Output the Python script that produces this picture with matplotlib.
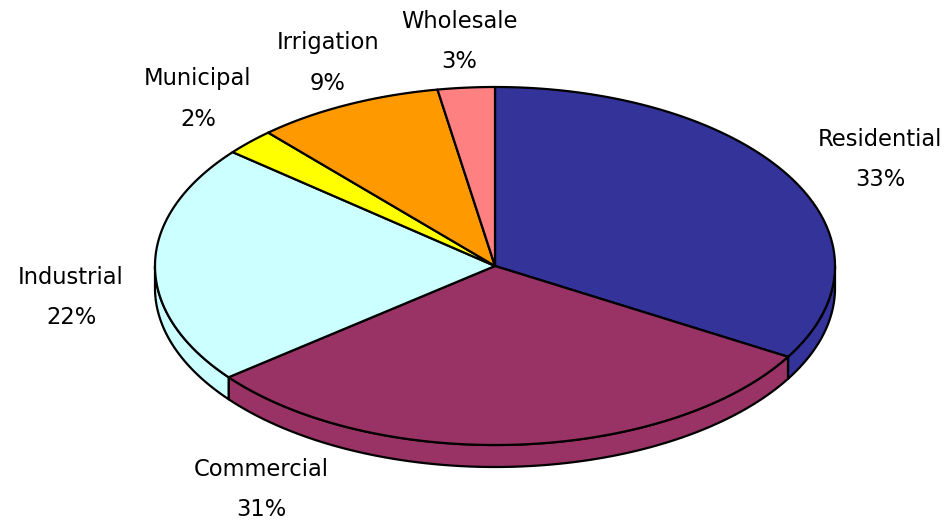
import numpy as np
import matplotlib
matplotlib.use("Agg")
import matplotlib.pyplot as plt
from matplotlib.patches import Polygon

# ---- data ----
categories = ["Residential", "Commercial", "Industrial", "Municipal", "Irrigation", "Wholesale"]
values = [33.4, 30.8, 21.6, 2.4, 8.9, 2.7]   # estimated shares (%)
colors = ["#333399", "#993366", "#CCFFFF", "#FFFF00", "#FF9900", "#FF8080"]

# ---- layout ----
W, H = 947, 524
cx, cy = 495, 266      # ellipse centre (pixels)
rx, ry = 340, 179      # ellipse radii
depth = 22             # 3-D thickness
start_angle = 90.0     # first slice starts at top, clockwise
label_pos = [(880, 139), (261, 470), (71, 277), (198, 79), (328, 43), (459, 21)]
line_gap = 40
fontsize = 16.3

fig = plt.figure(figsize=(W / 100, H / 100), dpi=100)
ax = fig.add_axes([0, 0, 1, 1])
ax.set_xlim(0, W)
ax.set_ylim(H, 0)
ax.axis("off")


def pt(theta_deg, dy=0.0):
    t = np.radians(theta_deg)
    return cx + rx * np.cos(t), cy - ry * np.sin(t) + dy


def arc(a1, a2, dy=0.0, n=200):
    th = np.linspace(a1, a2, n)
    xs, ys = pt(th, dy)
    return np.column_stack([xs, ys])


total = float(sum(values))
bounds = []
a = start_angle
for v in values:
    b = a - 360.0 * v / total
    bounds.append((a, b))
    a = b

lw = 1.6
# side faces (front half: angles in [-180, 0])
for (a1, a2), col in zip(bounds, colors):
    for off in (0.0, 360.0):
        hi = min(a1 + off, 0.0)
        lo = max(a2 + off, -180.0)
        if hi > lo:
            top = arc(hi, lo)
            bot = arc(lo, hi, dy=depth)
            poly = Polygon(np.vstack([top, bot]), closed=True, facecolor=col,
                           edgecolor="black", linewidth=lw, joinstyle="round", zorder=1)
            ax.add_patch(poly)

# top faces
for (a1, a2), col in zip(bounds, colors):
    pts = np.vstack([[cx, cy], arc(a1, a2)])
    poly = Polygon(pts, closed=True, facecolor=col, edgecolor="black",
                   linewidth=lw, joinstyle="round", zorder=2)
    ax.add_patch(poly)

# labels
for name, v, (lx, ly) in zip(categories, values, label_pos):
    ax.text(lx, ly, name, ha="center", va="center", fontsize=fontsize,
            family="DejaVu Sans", color="black")
    ax.text(lx, ly + line_gap, f"{round(100 * v / total)}%", ha="center", va="center",
            fontsize=fontsize, family="DejaVu Sans", color="black")

fig.savefig("out.png", dpi=100)
